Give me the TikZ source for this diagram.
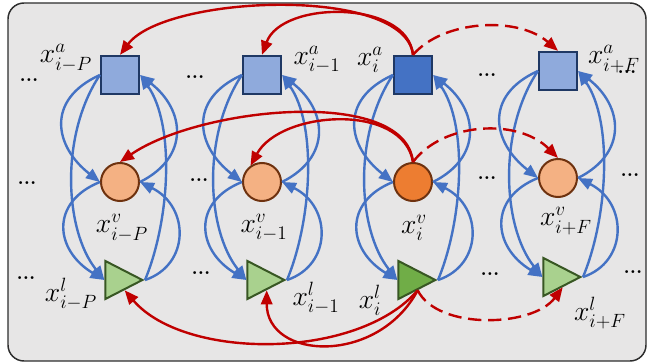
\documentclass[tikz,border=0pt]{standalone}
\usepackage{amsmath}
\usepackage{tikz}
\usetikzlibrary{arrows.meta,shapes.geometric}
\definecolor{panelgray}{RGB}{231,230,230}
\definecolor{edgegray}{RGB}{45,45,45}
\definecolor{audlight}{RGB}{143,170,220}
\definecolor{auddark}{RGB}{68,114,196}
\definecolor{audedge}{RGB}{31,56,100}
\definecolor{vislight}{RGB}{244,177,131}
\definecolor{visdark}{RGB}{237,125,49}
\definecolor{visedge}{RGB}{110,50,15}
\definecolor{lnglight}{RGB}{169,209,142}
\definecolor{lngdark}{RGB}{112,173,71}
\definecolor{lngedge}{RGB}{56,87,35}
\definecolor{linkblue}{RGB}{68,114,196}
\definecolor{linkred}{RGB}{192,0,0}

\begin{document}
\begin{tikzpicture}[
  x=0.75pt, y=-0.75pt,
  >={Triangle[length=10.5pt,width=8.5pt]},
  panel/.style={draw=edgegray,line width=1.1pt,fill=panelgray,rounded corners=12pt},
  aud/.style={rectangle,draw=audedge,line width=1.7pt,fill=audlight,minimum size=28.5pt,inner sep=0pt},
  vis/.style={circle,draw=visedge,line width=1.5pt,fill=vislight,minimum size=28.5pt,inner sep=0pt},
  lng/.style={isosceles triangle,isosceles triangle stretches,draw=lngedge,line width=1.5pt,fill=lnglight,minimum width=28.5pt,minimum height=27.75pt,inner sep=0pt,anchor=apex},
  intra/.style={->,line width=1.8pt,linkblue},
  past/.style={->,line width=1.8pt,linkred},
  future/.style={past,dash pattern=on 10pt off 5pt},
  lab/.style={font=\fontsize{20}{23}\selectfont,inner sep=0pt},
  ellip/.style={font=\fontsize{15}{17}\selectfont\bfseries,inner sep=0pt}
]
\useasboundingbox (0,0) rectangle (650,363);
\draw[panel] (8,3) rectangle (646,361);

% TOP ROW: audio features
\node[aud] (aP) at (120,75) {};
\node[aud] (a1) at (262,75) {};
\node[aud,fill=auddark] (a0) at (413,75) {};
\node[aud] (aF) at (558,71) {};

% MIDDLE ROW: visual features
\node[vis] (vP) at (120,182) {};
\node[vis] (v1) at (262,182) {};
\node[vis,fill=visdark] (v0) at (413,182) {};
\node[vis] (vF) at (558,178) {};

% BOTTOM ROW: language features
\node[lng] (lP) at (145,280) {};
\node[lng] (l1) at (287,280) {};
\node[lng,fill=lngdark] (l0) at (438,280) {};
\node[lng] (lF) at (583,277) {};

% labels
\node[lab] (taP) at (66,58) {$x^{a}_{i-P}$};
\node[lab] (ta1) at (317,60) {$x^{a}_{i-1}$};
\node[lab] (ta0) at (370,60) {$x^{a}_{i}$};
\node[lab] (taF) at (614,59) {$x^{a}_{i+F}$};
\node[lab] (tvP) at (122,228) {$x^{v}_{i-P}$};
\node[lab] (tv1) at (264,228) {$x^{v}_{i-1}$};
\node[lab] (tv0) at (414,228) {$x^{v}_{i}$};
\node[lab] (tvF) at (566,221) {$x^{v}_{i+F}$};
\node[lab] (tlP) at (71,294) {$x^{l}_{i-P}$};
\node[lab] (tl1) at (316,298) {$x^{l}_{i-1}$};
\node[lab] (tl0) at (370,300) {$x^{l}_{i}$};
\node[lab] (tlF) at (600,313) {$x^{l}_{i+F}$};

% ellipses between the steps
\node[ellip] (e11) at (29,80) {...};
\node[ellip] (e12) at (195,77) {...};
\node[ellip] (e13) at (487,75) {...};
\node[ellip] (e14) at (627,72) {...};
\node[ellip] (e21) at (27,183) {...};
\node[ellip] (e22) at (199,180) {...};
\node[ellip] (e23) at (487,178) {...};
\node[ellip] (e24) at (630,175) {...};
\node[ellip] (e31) at (26,278) {...};
\node[ellip] (e32) at (201,273) {...};
\node[ellip] (e33) at (490,274) {...};
\node[ellip] (e34) at (633,272) {...};

% blue links inside each step
\draw[intra] (aP.west) .. controls +(-55,25) and +(-45,-35) .. (vP.west);
\draw[intra] (aP.west) .. controls +(-40,60) and +(-40,-50) .. (lP.lower side);
\draw[intra] (vP.west) .. controls +(-50,20) and +(-50,-30) .. (lP.lower side);
\draw[intra] (vP.east) .. controls +(50,-25) and +(45,35) .. (aP.east);
\draw[intra] (lP.apex) .. controls +(25,-60) and +(35,50) .. (aP.east);
\draw[intra] (lP.apex) .. controls +(45,-15) and +(50,25) .. (vP.east);

\draw[intra] (a1.west) .. controls +(-55,25) and +(-45,-35) .. (v1.west);
\draw[intra] (a1.west) .. controls +(-40,60) and +(-40,-50) .. (l1.lower side);
\draw[intra] (v1.west) .. controls +(-50,20) and +(-50,-30) .. (l1.lower side);
\draw[intra] (v1.east) .. controls +(50,-25) and +(45,35) .. (a1.east);
\draw[intra] (l1.apex) .. controls +(25,-60) and +(35,50) .. (a1.east);
\draw[intra] (l1.apex) .. controls +(45,-15) and +(50,25) .. (v1.east);

\draw[intra] (a0.west) .. controls +(-55,25) and +(-45,-35) .. (v0.west);
\draw[intra] (a0.west) .. controls +(-40,60) and +(-40,-50) .. (l0.lower side);
\draw[intra] (v0.west) .. controls +(-50,20) and +(-50,-30) .. (l0.lower side);
\draw[intra] (v0.east) .. controls +(50,-25) and +(45,35) .. (a0.east);
\draw[intra] (l0.apex) .. controls +(25,-60) and +(35,50) .. (a0.east);
\draw[intra] (l0.apex) .. controls +(45,-15) and +(50,25) .. (v0.east);

\draw[intra] (aF.west) .. controls +(-55,25) and +(-45,-35) .. (vF.west);
\draw[intra] (aF.west) .. controls +(-40,60) and +(-40,-50) .. (lF.lower side);
\draw[intra] (vF.west) .. controls +(-50,20) and +(-50,-30) .. (lF.lower side);
\draw[intra] (vF.east) .. controls +(50,-25) and +(45,35) .. (aF.east);
\draw[intra] (lF.apex) .. controls +(25,-60) and +(35,50) .. (aF.east);
\draw[intra] (lF.apex) .. controls +(45,-15) and +(50,25) .. (vF.east);

% red links from step i to past (solid) and future (dashed)
\draw[past] (a0.north) .. controls +(-8,-70) and +(45,-60) .. (aP.north);
\draw[past] (a0.north) .. controls +(-5,-55) and +(20,-55) .. (a1.north);
\draw[future] (a0.north) .. controls +(30,-35) and +(-40,-35) .. (aF.north);

\draw[past] (v0.north) .. controls +(-8,-76) and +(80,-55) .. (vP.north);
\draw[past] (v0.north) .. controls +(-10,-60) and +(30,-55) .. (v1.125);
\draw[future] (v0.north) .. controls +(30,-40) and +(-40,-40) .. (vF.north);

\draw[past] (l0.right side) .. controls +(-60,70) and +(60,70) .. (lP.right side);
\draw[past] (l0.right side) .. controls +(-40,75) and +(0,70) .. (l1.right side);
\draw[future] (l0.right side) .. controls +(20,40) and +(-30,40) .. (lF.right side);

\end{tikzpicture}
\end{document}
